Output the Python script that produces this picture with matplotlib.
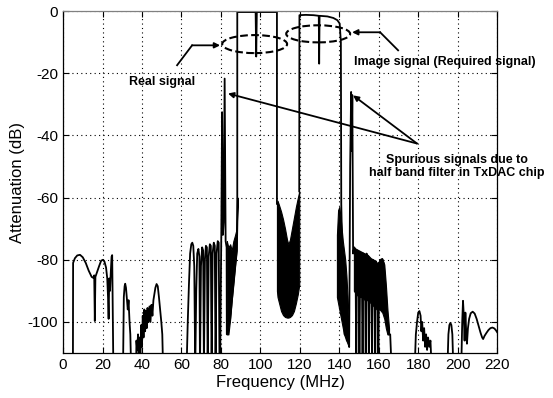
import numpy as np
import matplotlib
matplotlib.use("Agg")
import matplotlib.pyplot as plt
from matplotlib.patches import Ellipse

plt.rcParams['font.family'] = ['Liberation Sans', 'DejaVu Sans']
plt.rcParams['axes.unicode_minus'] = False

# spectre (MHz, dB); -115 = sous l'axe, nan = coupure
freq_mhz = [
    0, 5.0, 5.1, 6.0, 7.2, 8.6, 10.0, 11.5, 13.0, 14.5, 15.3, 15.8, 16.1, 16.4,
    17.2, 18.3, 19.3, 20.2, 21.0, 21.8, 22.4, 22.8, 23.1, 23.4, 23.8, 24.2, 24.6,
    24.9, 25.2, 25.5,
    30.4, 30.8, 31.2, 31.5, 31.9, 32.4, 32.8, 33.2, 33.7, 34.1, 34.5,
    37.0, 37.2, 37.6, 38.0, 38.4, 38.8, 39.2, 39.6, 40.0, 40.4, 40.8, 41.2, 41.6,
    42.0, 42.4, 42.8, 43.3, 43.8, 44.3, 44.8, 45.3, 45.8, 46.3, 46.8, 47.4, 48.0,
    48.6, 49.2, 49.8, 50.3, 50.7,
    62.6, 63.2, 63.8, 64.4, 65.0, 65.5, 66.0, 66.5, 67.0, 67.5, 68.0, 68.6, 69.1,
    69.4, 69.9, 70.5, 71.0, 71.4, 71.9, 72.4, 72.9, 73.3, 73.8, 74.4, 74.9, 75.3,
    75.8, 76.4, 76.9, 77.3, 77.8, 78.4, 78.9, 79.3,
    79.6, 80.2, 80.6, 81.0, 81.4, 81.9, 82.4, 82.9, 83.0, 84.7, 86.3, 88.0, 88.3,
    88.3, 97.6, 97.9, 98.2, 108.4, 108.4, np.nan,
    119.7, 119.8, 123.0, 127.0, 129.6, 129.8, 130.0, 134.0, 137.0, 139.0, 140.2,
    140.8, 141.0, 141.6, 142.2, 142.7, 143.2, 143.8, 144.4, 145.0, 145.5, 146.0,
    146.3, 146.6, 147.0, 147.6,
    148.2, 148.6, 149.0, 149.8, 150.2, 150.6, 151.4, 151.8, 152.2, 153.0, 153.4,
    153.8, 154.6, 155.0, 155.4, 156.2, 156.6, 157.0, 157.8, 158.2, 158.6, 159.4,
    159.8, 160.2, 161.0, 161.8, 162.4, 163.0, 163.6, 164.2, 165.0, 165.8, 166.5,
    178.2, 178.8, 179.4, 180.0, 180.6, 181.2, 181.6, 182.0, 182.5, 183.0, 183.5,
    184.0, 184.5, 185.0, 185.6, 186.2, 186.8,
    194.8, 195.3, 195.8, 196.3, 196.8, 197.3, 197.8,
    201.8, 202.3, 202.7, 203.1, 203.5, 203.9, 204.3, 204.7, 205.2, 205.8, 206.6,
    207.6, 208.6, 209.6, 210.6, 211.6, 212.4, 212.9, 213.6, 214.6, 215.6, 216.6,
    217.6, 218.6, 219.4, 220.0,
]
atten_db = [
    -115, -115, -81, -79.5, -78.6, -78.4, -79.2, -81, -83.5, -85.5, -85.8, -85, -99.7, -85.5,
    -84, -82, -80.3, -80, -80.6, -82.5, -86, -92, -99, -86, -90, -84, -79,
    -78.5, -96, -115,
    -115, -92, -88.5, -87.7, -89, -93, -96, -93, -100, -104, -115,
    -115, -106, -109, -104, -115, -105, -112, -101, -108, -98, -105, -96, -103,
    -96.5, -102, -95.5, -100, -95, -100, -94.5, -98, -93, -91, -89, -87.8, -88.5,
    -92, -96, -100, -104, -115,
    -115, -100, -88, -78, -75, -74.5, -75.5, -82, -115, -90, -78, -76.5, -79,
    -115, -82, -76, -77, -115, -80, -75.5, -76, -115, -79, -75, -75.5, -115,
    -78, -74.5, -75.5, -115, -78, -74, -74.5, -115,
    -115, -72, -32.5, -72, -68, -21.7, -74, -76, -104, -99, -88, -77, -60,
    -0.3, -0.3, -14.6, -0.3, -0.3, -62, np.nan,
    -58, -1.3, -1.2, -1.3, -1.5, -16.9, -1.5, -1.7, -2.2, -2.9, -4,
    -10, -62, -80, -96, -104, -95, -106, -100, -108, -50, -26,
    -45, -27, -78, -76,
    -77, -115, -77, -77.5, -115, -78, -78, -115, -78, -78.5, -115,
    -78, -79, -115, -80, -80, -115, -80, -81, -115, -80.5, -82,
    -115, -81, -80, -79.7, -81, -86, -93, -100, -104, -104, -115,
    -115, -104, -100, -97, -96.5, -98, -103, -100, -106, -102, -108,
    -104, -109, -105, -108, -106, -115,
    -115, -104, -101, -100.3, -101, -104, -115,
    -115, -100, -93.2, -98, -106, -97, -103, -107, -102, -99, -97.2,
    -96.7, -97.3, -99, -101.3, -103.5, -105, -105.5, -104.5, -103.5, -102.6, -102,
    -101.8, -102.1, -102.7, -103.3,
]

# zones noires denses (bornes haute / basse)
v_freq = [82.9, 83.0, 83.8, 84.7, 85.5, 86.3, 87.2, 88.0, 88.5]
v_high = [-75, -74, -76, -75, -77, -74, -72, -70, -60]
v_low = [-76, -104, -104, -99, -93, -88, -82, -77, -60]

u_freq = [108.4, 108.7, 109.5, 110.5, 111.5, 112.5, 113.5, 114.2, 115.0, 116.0,
          117.0, 118.0, 119.0, 119.7]
u_high = [-62, -61, -62.5, -64.5, -67, -70, -73.5, -75, -73.5, -70, -66.5, -63, -60, -58]
u_low = [-90, -92, -94, -96.5, -97.8, -98.4, -98.6, -98.6, -98.4, -97.8, -96.5,
         -94, -91, -88]

w_freq = [138.8, 139.4, 140.0, 140.6, 141.2, 141.8, 142.4, 143.0, 143.6, 144.2, 144.8]
w_high = [-72, -64, -63, -66, -70, -74, -77, -80, -85, -92, -100]
w_low = [-92, -94, -96, -98, -100, -102, -104, -105, -106, -107, -108]

d_freq = [147.4, 148.5, 150, 151.5, 153, 154.5, 156, 157.5, 159, 160.5, 161.8,
          162.8, 163.6, 164.4, 165.2]
d_high = [-76, -76.5, -77, -77.5, -78, -78.5, -79.5, -80, -81, -80.5, -79.7,
          -81.5, -88, -96, -102]
d_low = [-90, -91, -92, -92, -93, -93, -94, -95, -96, -96, -97, -99, -102, -104, -104]

fig = plt.figure(figsize=(5.53, 3.98), dpi=100)
ax = fig.add_axes([0.114, 0.113, 0.785, 0.859])

ax.plot(freq_mhz, atten_db, color='k', lw=1.3)
for f, hi, lo in [(v_freq, v_high, v_low), (u_freq, u_high, u_low),
                  (w_freq, w_high, w_low), (d_freq, d_high, d_low)]:
    ax.fill_between(f, lo, hi, color='k', lw=0.8)

ax.set_xlim(0, 220)
ax.set_ylim(-110, 0)
ax.set_xticks(np.arange(0, 221, 20))
ax.set_yticks([0, -20, -40, -60, -80, -100])
ax.grid(True, color='k', ls=(0, (1, 3)), lw=0.8)
ax.tick_params(direction='in', length=4, top=True, right=True, labelsize=11)
for s in ax.spines.values():
    s.set_linewidth(0.9)
ax.spines['top'].set_color('0.5')

ax.set_xlabel('Frequency (MHz)', fontsize=12, labelpad=2)
ax.set_ylabel('Attenuation (dB)', fontsize=12, labelpad=2)

# annotations
ax.add_patch(Ellipse((97.1, -10.6), 32.9, 5.8, fill=False, ls='--', lw=1.5, ec='k'))
ax.add_patch(Ellipse((129.3, -7.3), 32.4, 5.5, fill=False, ls='--', lw=1.5, ec='k'))
arr = dict(arrowstyle='-|>', color='k', lw=1.3, mutation_scale=8, shrinkA=0, shrinkB=0)

ax.text(50.2, -22.9, 'Real signal', ha='center', va='center', fontsize=9, fontweight='bold')
ax.plot([57.8, 65.4], [-17.4, -11], color='k', lw=1.3)
ax.annotate('', xy=(79.6, -11), xytext=(65.4, -11), arrowprops=arr)

ax.text(193.3, -16.5, 'Image signal (Required signal)', ha='center', va='center',
        fontsize=9, fontweight='bold', clip_on=False)
ax.plot([169.8, 160.7], [-12.6, -6.8], color='k', lw=1.3)
ax.annotate('', xy=(146.5, -6.8), xytext=(160.7, -6.8), arrowprops=arr)

ax.text(199.6, -50, 'Spurious signals due to\nhalf band filter in TxDAC chip',
        ha='center', va='center', fontsize=9, fontweight='bold', linespacing=1.1)
ax.annotate('', xy=(147, -27.1), xytext=(179.4, -42.6), arrowprops=arr)
ax.annotate('', xy=(83.6, -26.5), xytext=(179.4, -42.6), arrowprops=arr)

fig.savefig('out.png', dpi=100)
